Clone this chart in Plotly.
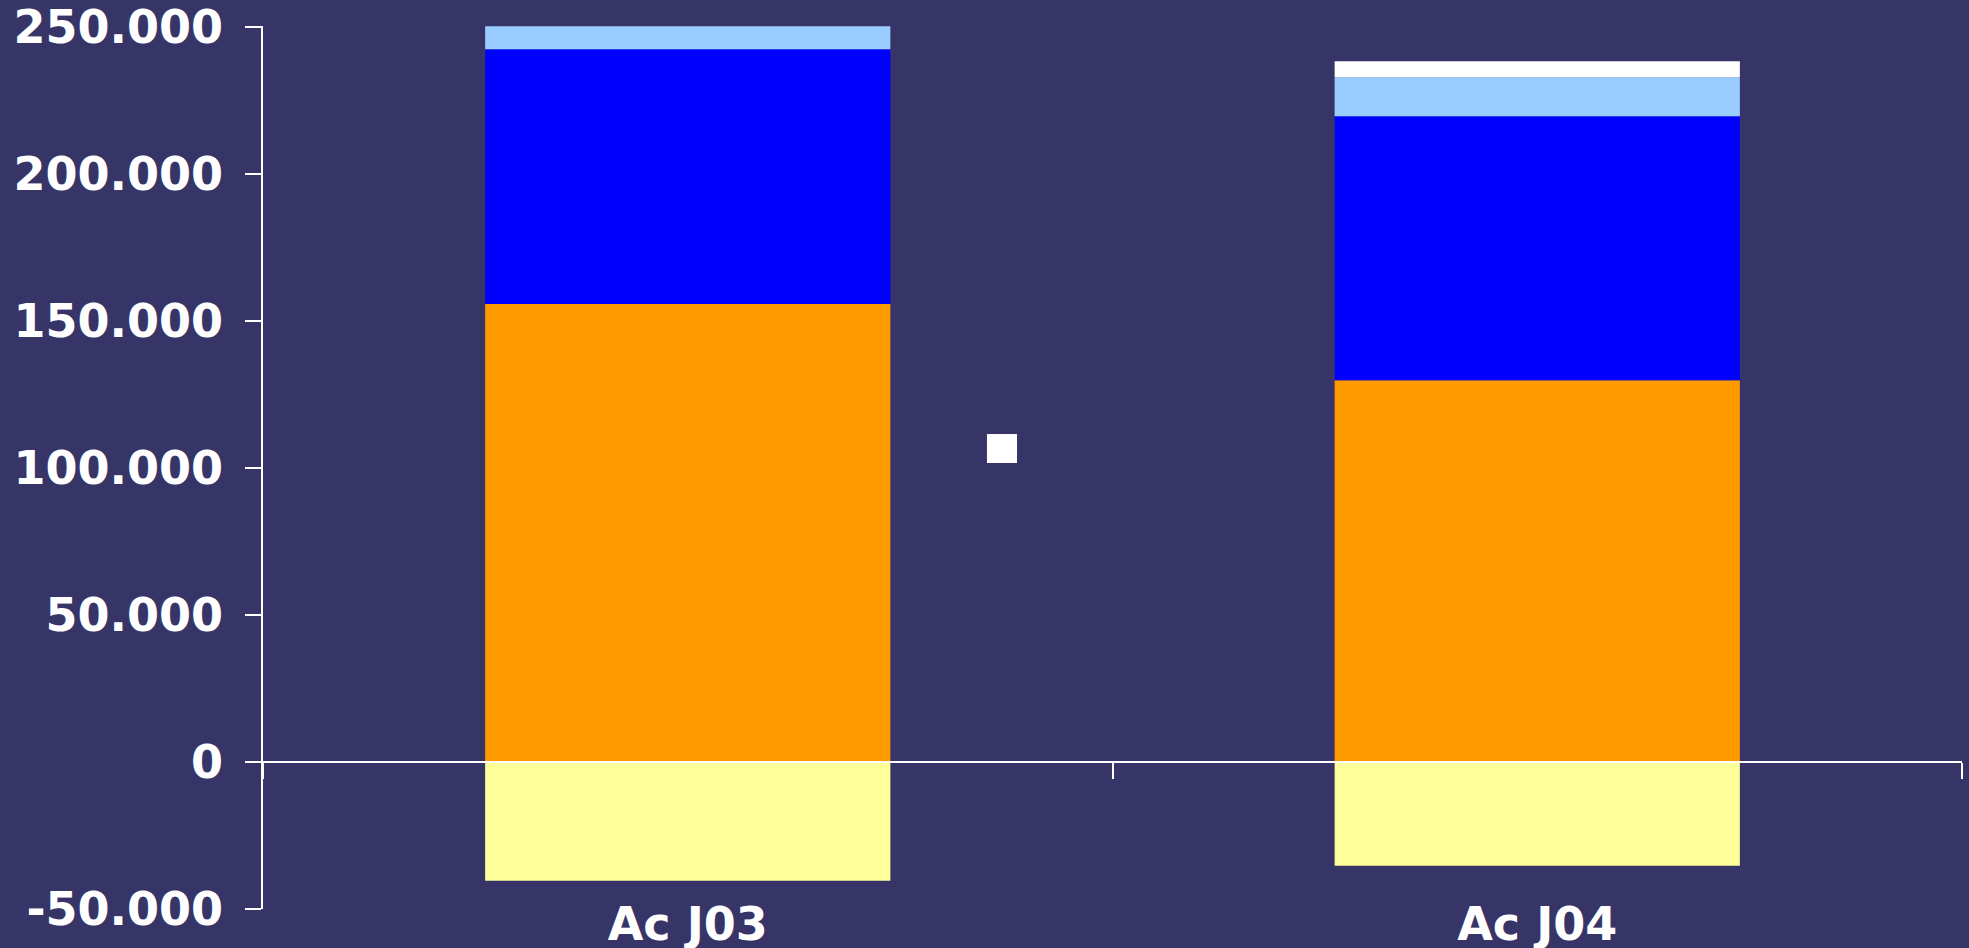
import plotly.graph_objects as go

categories = ["Ac J03", "Ac J04"]
yellow_vals = [-40400, -35300]
orange_vals = [155800, 129900]
blue_vals = [86700, 89800]
lightblue_vals = [7800, 13300]
white_vals = [0, 5400]

y_tickvals = [-50000, 0, 50000, 100000, 150000, 200000, 250000]
y_ticktext = ["-50.000", "0", "50.000", "100.000", "150.000", "200.000", "250.000"]

BG = "#373468"
FONT = dict(family="Verdana, DejaVu Sans, sans-serif", size=46, color="white", weight="bold")

fig = go.Figure()
series = [
    ("neg", yellow_vals, "#FFFF99"),
    ("orange", orange_vals, "#FF9900"),
    ("blue", blue_vals, "#0000FF"),
    ("lightblue", lightblue_vals, "#99CCFF"),
    ("white", white_vals, "#FFFFFF"),
]
for name, vals, col in series:
    fig.add_trace(go.Bar(x=categories, y=vals, name=name, marker=dict(color=col, line=dict(width=0)),
                         showlegend=False, hoverinfo="skip"))

# helper trace for overlay axis with zero-line ticks
fig.add_trace(go.Scatter(x=[-0.5, 1.5], y=[0, 0], mode="none", xaxis="x2", yaxis="y",
                         showlegend=False, hoverinfo="skip"))

ymin, ymax = -50000, 250400
zero_pos = (0 - ymin) / (ymax - ymin)

fig.update_layout(
    width=1969, height=948,
    paper_bgcolor=BG, plot_bgcolor=BG,
    margin=dict(l=263, r=7, t=26, b=39, autoexpand=False),
    barmode="relative", bargap=0.523,
    xaxis=dict(type="category", categoryorder="array", categoryarray=categories,
               range=[-0.5, 1.5], showline=False, ticks="", showgrid=False, zeroline=False,
               tickfont=FONT, fixedrange=True, automargin=False, ticklabelstandoff=-16),
    xaxis2=dict(overlaying="x", anchor="free", position=zero_pos, range=[-0.5, 1.5],
                showline=True, linecolor="white", linewidth=1.5,
                ticks="outside", tickvals=[-0.5, 0.5, 1.5], ticklen=16, tickwidth=1.5,
                tickcolor="white", showticklabels=False, showgrid=False, zeroline=False,
                automargin=False),
    yaxis=dict(range=[ymin, ymax], tickvals=y_tickvals, ticktext=y_ticktext,
               showline=True, linecolor="white", linewidth=1.5,
               ticks="outside", ticklen=16, tickwidth=1.5, tickcolor="white",
               showgrid=False, zeroline=False, tickfont=FONT, ticklabelstandoff=13,
               automargin=False),
    shapes=[dict(type="rect", xref="paper", yref="paper",
                 x0=0.4261, x1=0.4438, y0=0.5051, y1=0.5379,
                 fillcolor="white", line=dict(width=0))],
)

fig.write_html("out.html", config=dict(displayModeBar=False),
               post_script="document.body.style.margin='0';document.body.style.overflow='hidden';document.body.style.background='" + BG + "';")
